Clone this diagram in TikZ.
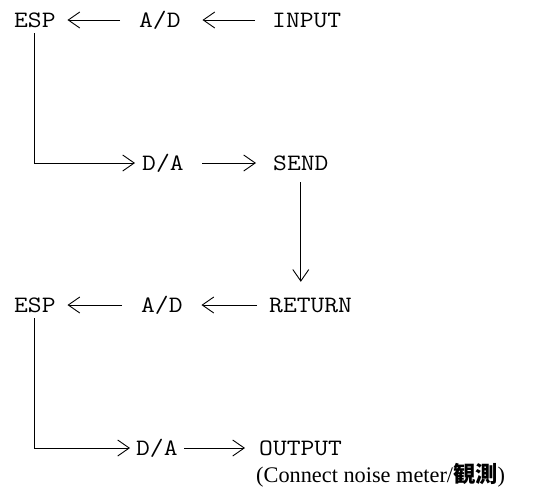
\documentclass[tikz,border=0pt]{standalone}
\usepackage{fontspec}
\setmainfont{Liberation Serif}
\setmonofont[FakeStretch=1.14]{Latin Modern Mono}
\newfontfamily\cjk{Noto Sans CJK JP}
\usetikzlibrary{arrows.meta}
\begin{document}
\begin{tikzpicture}[x=1pt,y=-1pt,
  lbl/.style={anchor=west,inner sep=0pt,text height=14pt,text depth=0pt,font=\fontsize{23.5}{26}\ttfamily},
  arr/.style={line width=0.9pt,-{Straight Barb[length=11.5pt,width=16pt,line width=0.9pt]}}]
\useasboundingbox (0,0) rectangle (545,499);
% row 1
\node[lbl] (esp1) at (14,20) {ESP};
\node[lbl] (ad1) at (139,20) {A/D};
\node[lbl] (in1) at (272,20) {INPUT};
% row 2
\node[lbl] (da1) at (142,163) {D/A};
\node[lbl] (send) at (273,163) {SEND};
% row 3
\node[lbl] (esp2) at (14,305) {ESP};
\node[lbl] (ad2) at (141,305) {A/D};
\node[lbl] (ret) at (269,305) {RETURN};
% row 4
\node[lbl] (da2) at (136,448) {D/A};
\node[lbl] (out) at (259,448) {OUTPUT};
\node[anchor=base west,inner sep=0pt,font=\fontsize{22.3}{24}\selectfont] (cap) at (256,482) {(Connect noise meter/{\cjk\bfseries 観測})};
% connectors
\draw[arr] ([xshift=-19pt]ad1.west) -- ([xshift=11.7pt]esp1.east);
\draw[arr] ([xshift=-17pt]in1.west) -- ([xshift=21.7pt]ad1.east);
\draw[arr,shorten >=7pt] ([yshift=-6pt]esp1.south) |- (da1.west);
\draw[arr] ([xshift=18.7pt]da1.east) -- ([xshift=-17pt]send.west);
\draw[arr] ([yshift=-12pt]send.south) -- ([yshift=16pt]send.south |- ret.north);
\draw[arr] ([xshift=-19pt]ad2.west) -- ([xshift=11.7pt]esp2.east);
\draw[arr] ([xshift=-12pt]ret.west) -- ([xshift=18.7pt]ad2.east);
\draw[arr,shorten >=6pt] ([yshift=-6pt]esp2.south) |- (da2.west);
\draw[arr] ([xshift=6.7pt]da2.east) -- ([xshift=-14pt]out.west);
\end{tikzpicture}
\end{document}
